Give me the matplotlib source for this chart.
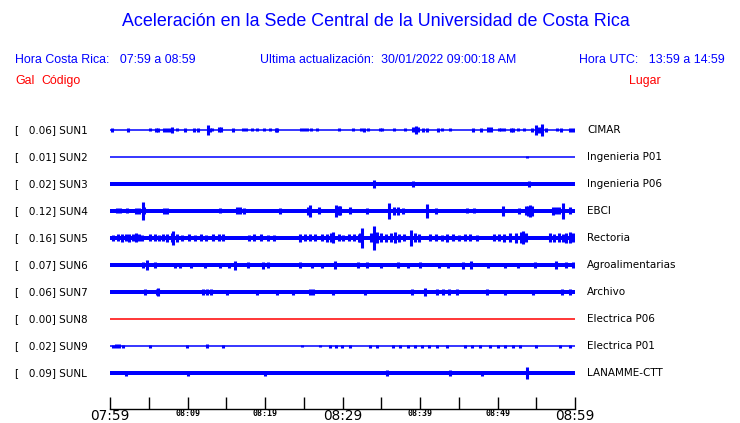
import matplotlib
matplotlib.use("Agg")
import matplotlib.pyplot as plt

BLUE = "#0000ff"
RED = "#ff0000"

# station data
codes = ["SUN1", "SUN2", "SUN3", "SUN4", "SUN5", "SUN6", "SUN7", "SUN8", "SUN9", "SUNL"]
gal = [0.06, 0.01, 0.02, 0.12, 0.16, 0.07, 0.06, 0.00, 0.02, 0.09]
places = ["CIMAR", "Ingenieria P01", "Ingenieria P06", "EBCI", "Rectoria",
          "Agroalimentarias", "Archivo", "Electrica P06", "Electrica P01", "LANAMME-CTT"]

# background noise half-amplitude of each trace
base_amp = [0, 0, 2.2, 2.0, 2.4, 1.8, 1.8, 0, 0, 2.0]

# bursts / spikes: (minute after 07:59, half-amplitude)
sun1_events = [(0.2, 2), (2.3, 2), (5.1, 1.5), (5.9, 2), (6.2, 2), (7.0, 2), (7.3, 2), (7.7, 2),
               (8.0, 3), (8.7, 1.5), (9.7, 2), (10.8, 2), (11.4, 2), (12.6, 5), (12.9, 2),
               (13.2, 1.5), (14.0, 2.5), (14.3, 2.5), (15.9, 2), (17.1, 1.5), (17.6, 1.5),
               (18.3, 1.5), (19.0, 1.5), (19.9, 1.5), (20.7, 1.5), (21.4, 2), (21.6, 2),
               (24.6, 1.5), (25.0, 1.5), (25.4, 1.5), (25.9, 1.5), (26.7, 1.5), (29.5, 1.5),
               (31.3, 1.5), (32.4, 1.5), (32.8, 2), (33.3, 1.5), (34.8, 1.5), (35.1, 1.5),
               (36.6, 1.5), (38.1, 1.5), (39.1, 2.5), (39.5, 4), (39.8, 2.5), (40.4, 2),
               (40.9, 2), (42.3, 2), (42.9, 1.5), (43.9, 1.5), (46.8, 2), (47.9, 2),
               (48.8, 2.5), (49.1, 2.5), (50.2, 1.5), (50.5, 1.5), (50.8, 1.5), (51.7, 2),
               (52.0, 2), (52.7, 1.5), (53.4, 1.5), (54.5, 2), (55.0, 5), (55.3, 3), (55.8, 6),
               (56.3, 2), (57.7, 1.5), (58.2, 2), (59.4, 2), (59.7, 2)]
sun2_events = [(53.8, 1)]
sun3_events = [(34.1, 4), (39.1, 3), (54.1, 3)]
sun4_events = [(0.9, 2.5), (1.3, 2.5), (2.2, 2.5), (3.3, 3), (3.8, 3), (4.2, 9), (4.4, 3.5),
               (7.0, 3), (7.4, 3), (14.2, 2.5), (16.4, 3.5), (16.8, 3.5), (17.3, 3),
               (21.9, 3), (25.5, 4), (25.8, 6), (27.0, 3.5), (29.2, 6), (29.5, 4.5), (29.7, 4.5),
               (31.0, 3.5), (33.2, 3), (36.0, 8), (36.6, 4), (37.1, 4), (37.8, 3),
               (40.9, 7), (42.1, 3), (46.1, 2.5), (47.0, 2.5), (50.7, 5), (52.8, 3),
               (53.7, 4.5), (53.9, 5), (54.2, 6), (54.5, 5), (57.1, 4), (57.5, 3.5),
               (57.9, 3.5), (58.4, 8), (59.3, 3.5)]
sun5_events = [(0.4, 3), (1.0, 3.5), (1.6, 4), (2.0, 3.5), (2.5, 4), (3.0, 3.5), (3.3, 4.5),
               (3.7, 3.5), (4.1, 3), (5.2, 3.5), (5.8, 3.5), (6.3, 3), (6.9, 3.5), (7.4, 4),
               (8.0, 4.5), (8.1, 7), (8.6, 4), (9.3, 3), (10.2, 3.5), (11.0, 3), (11.7, 3.5),
               (12.4, 3), (13.3, 3.5), (14.0, 3.5), (14.6, 3.5), (17.9, 3), (18.6, 3.5),
               (19.5, 3.5), (20.4, 3), (21.1, 3), (24.5, 4), (25.1, 3.5), (25.8, 3.5),
               (26.5, 3.5), (27.3, 3.5), (28.0, 4), (28.5, 4.5), (28.8, 5.5), (29.5, 3.5),
               (30.0, 3), (30.8, 3.5), (31.5, 3.5), (32.1, 4), (32.3, 4.5), (32.5, 10),
               (33.7, 4.5), (34.1, 12), (34.5, 5.5), (35.0, 4.5), (35.6, 4), (36.2, 4.5),
               (36.8, 5.5), (37.3, 4), (37.9, 3.5), (38.9, 8), (39.3, 4.5), (39.9, 4),
               (41.3, 3.5), (42.0, 3.5), (42.8, 3), (43.5, 4), (44.2, 3.5), (45.0, 3),
               (45.8, 3.5), (46.5, 3.5), (47.3, 3), (49.5, 3.5), (50.2, 3.5), (50.9, 4),
               (51.6, 4.5), (52.4, 5), (53.0, 5.5), (53.3, 6.5), (53.7, 4.5), (56.8, 4.5),
               (57.3, 4), (57.9, 4.5), (58.4, 4), (58.9, 5), (59.3, 5.5), (59.7, 4.5)]
sun6_events = [(4.3, 3), (4.8, 5), (5.8, 3), (8.4, 2.5), (9.0, 2.5), (10.5, 2.5), (12.3, 2.5),
               (14.2, 2.5), (15.3, 2.5), (16.1, 4.5), (17.8, 3), (19.8, 3.5), (20.4, 3),
               (24.5, 3), (26.0, 2.5), (27.3, 2.5), (29.0, 4), (32.0, 3), (33.1, 3),
               (35.0, 2.5), (37.2, 3), (38.5, 2.5), (40.0, 3), (42.4, 2.5), (43.6, 2.5),
               (45.6, 3.5), (46.6, 4), (48.8, 2.5), (51.0, 2.5), (52.7, 2.5), (54.8, 3),
               (57.6, 4), (58.9, 3), (59.8, 3)]
sun7_events = [(4.5, 3), (6.0, 3), (6.2, 4), (12.0, 3), (12.5, 3), (13.0, 3), (15.1, 2.5),
               (19.0, 2.5), (21.5, 2.5), (23.6, 2.5), (25.8, 3), (26.2, 3), (28.8, 2.5),
               (32.9, 2.5), (39.0, 3), (40.6, 4), (42.2, 3), (43.0, 3), (43.8, 3), (44.8, 3),
               (48.6, 3), (51.0, 2.5), (54.6, 2.5), (58.3, 3), (59.4, 3)]
sun8_events = []
sun9_events = [(0.4, 1.5), (0.8, 2), (1.2, 2), (1.7, 1.5), (5.2, 1.5), (9.9, 1.5), (12.5, 2),
               (14.6, 1.5), (24.8, 1), (27.1, 1), (28.4, 1.5), (29.2, 1.5), (29.9, 1.5),
               (31.0, 1.5), (33.5, 1.5), (34.5, 1.5), (36.5, 1.5), (37.4, 1.5), (38.5, 1.5),
               (39.4, 1.5), (40.3, 1.5), (41.2, 1.5), (42.2, 1.5), (43.5, 1.5), (45.8, 1.5),
               (46.7, 1.5), (47.7, 1.5), (49.0, 1.5), (50.0, 1.5), (51.0, 1.5), (52.0, 1.5),
               (52.9, 1.5), (55.0, 1.5), (58.1, 1.5), (59.4, 1.5)]
sunl_events = [(2.0, 2.5), (10.0, 2.5), (20.0, 2.5), (35.7, 3), (43.9, 3), (48.0, 2.5),
               (53.8, 6)]

events = [sun1_events, sun2_events, sun3_events, sun4_events, sun5_events,
          sun6_events, sun7_events, sun8_events, sun9_events, sunl_events]
trace_colors = [BLUE] * 7 + [RED] + [BLUE] * 2

tick_minutes = list(range(0, 61, 5))
label_minutes = [0, 10, 20, 30, 40, 50, 60]
time_labels = ["07:59", "08:09", "08:19", "08:29", "08:39", "08:49", "08:59"]
big_labels = ["07:59", "08:29", "08:59"]

fig = plt.figure(figsize=(7.4, 4.23), dpi=100)
W, H = 740, 423

# header
hfont = "Liberation Sans"
fig.text(376 / W, 1 - 22 / H, "Aceleración en la Sede Central de la Universidad de Costa Rica",
         ha="center", va="center", color=BLUE, fontsize=12.9, family=hfont)
fig.text(15 / W, 1 - 60 / H, "Hora Costa Rica:   07:59 a 08:59", ha="left", va="center",
         color=BLUE, fontsize=8.9, family=hfont)
fig.text(260 / W, 1 - 60 / H, "Ultima actualización:  30/01/2022 09:00:18 AM", ha="left",
         va="center", color=BLUE, fontsize=8.9, family=hfont)
fig.text(725 / W, 1 - 60 / H, "Hora UTC:   13:59 a 14:59", ha="right", va="center",
         color=BLUE, fontsize=8.9, family=hfont)
fig.text(15 / W, 1 - 81 / H, "Gal", ha="left", va="center", color=RED, fontsize=8.9, family=hfont)
fig.text(41 / W, 1 - 81 / H, "Código", ha="left", va="center", color=RED, fontsize=8.9, family=hfont)
fig.text(629 / W, 1 - 81 / H, "Lugar", ha="left", va="center", color=RED, fontsize=8.9, family=hfont)

# traces (y units = pixels, rows 27 apart)
ax = fig.add_axes([110 / W, 1 - 386.5 / H, 465 / W, 270 / H])
ax.set_xlim(0, 60)
ax.set_ylim(9.5 * 27, -0.5 * 27)
ax.axis("off")

for i, code in enumerate(codes):
    yc = i * 27
    c = trace_colors[i]
    b = base_amp[i]
    if b > 0:
        ax.fill_between([0, 60], yc - b, yc + b, color=c, lw=0)
    else:
        ax.hlines(yc, 0, 60, color=c, lw=1.1)
    for t, a in events[i]:
        ax.vlines(t, yc - a, yc + a, color=c, lw=2.2)
    ax.text(-95 / 465, yc, f"[   {gal[i]:.2f}] {code}", transform=ax.get_yaxis_transform(),
            ha="left", va="center", fontsize=7.5, color="black")
    ax.text(477 / 465, yc, places[i], transform=ax.get_yaxis_transform(),
            ha="left", va="center", fontsize=7.5, color="black")

# time scale
tax = fig.add_axes([110 / W, 1 - 409 / H, 465 / W, 0.001])
tax.set_xlim(0, 60)
for s in ["top", "left", "right"]:
    tax.spines[s].set_visible(False)
tax.spines["bottom"].set_linewidth(1)
tax.set_yticks([])
tax.set_xticks(tick_minutes)
tax.set_xticklabels([])
tax.tick_params(axis="x", direction="in", length=9, width=1)
for m, lab in zip(label_minutes, time_labels):
    if lab in big_labels:
        tax.text(m, -0.6, lab, transform=tax.get_xaxis_transform(), ha="center", va="top",
                 fontsize=9.8, family="DejaVu Sans")
    else:
        tax.text(m, -0.6, lab, transform=tax.get_xaxis_transform(), ha="center", va="top",
                 fontsize=6, family="DejaVu Sans Mono", fontweight="bold")

fig.savefig("out.png", dpi=100)
